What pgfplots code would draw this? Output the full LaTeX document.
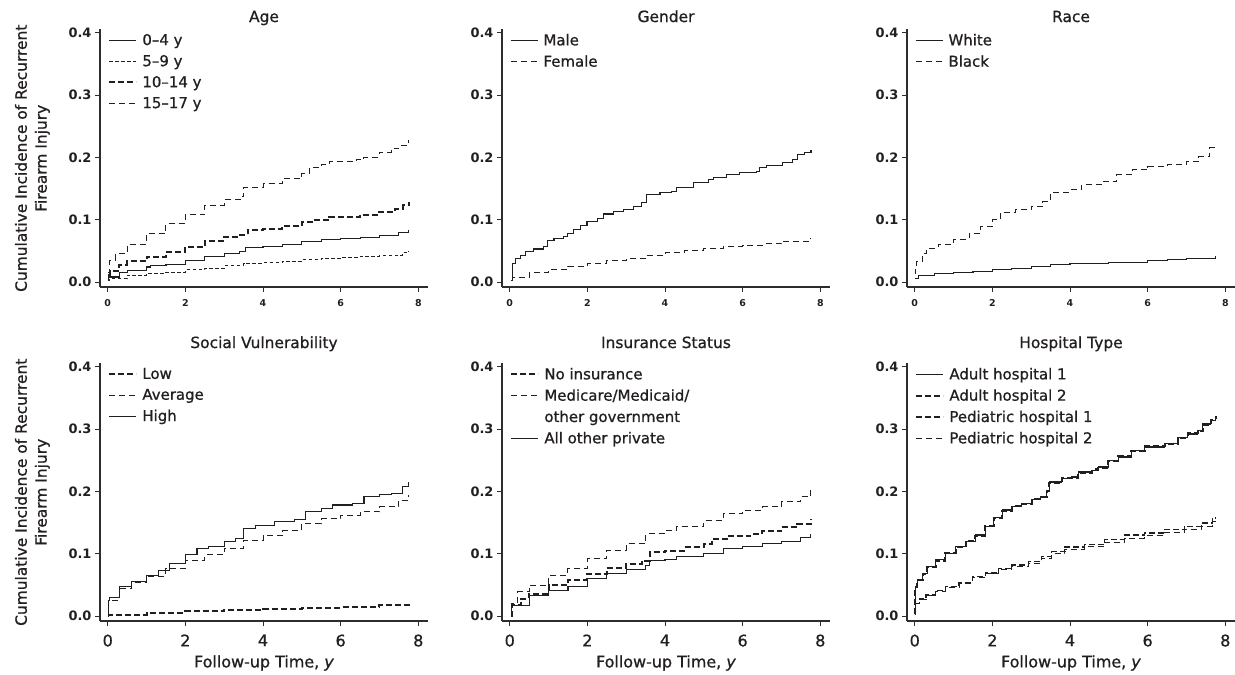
\documentclass[border=0pt]{standalone}
\usepackage{fontspec}
\setmainfont{DejaVu Sans}
\newfontfamily\semi[FakeBold=0.9]{DejaVu Sans}
\usepackage{pgfplots}
\pgfplotsset{compat=1.18}
\definecolor{ink}{RGB}{35,31,32}
\definecolor{axcol}{RGB}{45,45,45}
\pgfplotsset{
  panel/.style={
    scale only axis, width=328bp, height=257.5bp,
    xmin=-0.2, xmax=8.25, ymin=-0.008, ymax=0.405,
    axis lines=left, axis line style={-, line width=1.1bp, draw=axcol},
    xtick={0,2,4,6,8}, ytick={0,0.1,0.2,0.3,0.4},
    tick style={line width=0.9bp, draw=axcol}, tick align=outside, major tick length=5bp,
    /pgf/number format/assume math mode=true,
    yticklabel style={/pgf/number format/.cd, fixed, fixed zerofill, precision=1, /tikz/.cd,
      font=\fontsize{13}{15}\selectfont\bfseries, text=ink},
    title style={font=\fontsize{15.5}{18}\selectfont\semi, text=ink, at={(axis description cs:0.5,1)}, anchor=base},
    legend style={draw=none, fill=none, at={(axis description cs:0.022,0.995)}, anchor=north west,
      font=\fontsize{15}{17}\selectfont\semi, text=ink, row sep=4.5bp, inner sep=1bp,
      /tikz/every odd column/.append style={column sep=3bp}},
    legend cell align=left,
    legend image code/.code={\draw[##1] plot coordinates {(0bp,0bp) (27bp,0bp)};},
    every axis plot/.append style={const plot, no marks, draw=ink},
  },
  toprow/.style={panel,
    xticklabel style={font=\fontsize{9.5}{11}\selectfont\bfseries, text=ink, yshift=-4bp},
    title style={yshift=1.5bp}},
  botrow/.style={panel,
    xticklabel style={font=\fontsize{16}{18}\selectfont\semi, text=ink, yshift=-5bp},
    title style={yshift=9.5bp},
    xlabel={Follow-up Time, \textit{y}},
    xlabel style={font=\fontsize{16}{18}\selectfont\semi, text=ink, at={(axis description cs:0.5,0)}, anchor=center, yshift=-42bp}},
  ylab/.style={ylabel={Cumulative Incidence of Recurrent\\Firearm Injury},
    ylabel style={align=center, font=\fontsize{15.5}{20}\selectfont\semi, text=ink, at={(axis description cs:-0.206,0.5)}, anchor=center}},
  thinsolid/.style={line width=1.1bp},
  thindash/.style={line width=1bp, dash pattern=on 6bp off 4bp},
  densedash/.style={line width=1bp, dash pattern=on 3.5bp off 2.5bp},
  thickdash/.style={line width=2bp, dash pattern=on 6bp off 3bp},
  meddash/.style={line width=1.4bp, dash pattern=on 6bp off 3bp},
}
\begin{document}
\begin{tikzpicture}
\useasboundingbox (0,0) rectangle (1235bp,675bp);
% ---------------- Age
\begin{axis}[toprow, ylab, title={Age}, at={(100bp,388bp)}, anchor=south west]
\addplot[thinsolid] coordinates {(0,0.004)(0.02,0.008)(0.3,0.015)(0.5,0.019)(1,0.024)(1.1,0.027)(1.5,0.028)(2,0.035)(2.5,0.041)(3,0.046)(3.4,0.049)(3.55,0.055)(4,0.057)(4.5,0.06)(5,0.065)(5.5,0.068)(6,0.07)(6.5,0.071)(7,0.075)(7.5,0.079)(7.75,0.083)};
\addlegendentry{0–4 y}
\addplot[densedash] coordinates {(0,0.002)(0.05,0.005)(0.5,0.011)(1,0.014)(1.5,0.016)(2,0.02)(2.5,0.022)(3,0.026)(3.5,0.03)(4,0.031)(4.5,0.033)(5,0.036)(5.5,0.038)(6,0.04)(6.5,0.041)(7,0.042)(7.4,0.043)(7.6,0.047)(7.75,0.049)};
\addlegendentry{5–9 y}
\addplot[thickdash] coordinates {(0,0.012)(0.05,0.018)(0.3,0.027)(0.5,0.033)(1,0.04)(1.5,0.048)(2,0.056)(2.5,0.066)(3,0.072)(3.4,0.075)(3.6,0.083)(4,0.085)(4.5,0.09)(5,0.096)(5.3,0.1)(5.7,0.105)(6.5,0.108)(7,0.113)(7.4,0.117)(7.6,0.123)(7.75,0.128)};
\addlegendentry{10–14 y}
\addplot[thindash] coordinates {(0,0.015)(0.05,0.035)(0.2,0.045)(0.5,0.06)(1,0.077)(1.5,0.094)(2,0.108)(2.5,0.123)(3,0.132)(3.45,0.137)(3.5,0.152)(4,0.158)(4.5,0.166)(5,0.174)(5.2,0.183)(5.5,0.188)(5.7,0.193)(6.4,0.196)(6.6,0.2)(7,0.208)(7.3,0.214)(7.5,0.219)(7.75,0.228)};
\addlegendentry{15–17 y}
\end{axis}
% ---------------- Gender
\begin{axis}[toprow, title={Gender}, at={(502bp,388bp)}, anchor=south west]
\addplot[thinsolid] coordinates {(0.03,0.003)(0.07,0.030)(0.15,0.038)(0.28,0.043)(0.41,0.049)(0.62,0.053)(0.88,0.057)(0.97,0.066)(1.14,0.070)(1.39,0.073)(1.48,0.078)(1.65,0.084)(1.82,0.090)(1.99,0.097)(2.25,0.102)(2.42,0.109)(2.67,0.113)(2.93,0.117)(3.19,0.121)(3.40,0.127)(3.53,0.140)(3.87,0.143)(4.17,0.145)(4.30,0.151)(4.68,0.152)(4.73,0.159)(5.11,0.164)(5.24,0.167)(5.58,0.172)(5.92,0.176)(6.35,0.177)(6.44,0.183)(6.61,0.187)(7.03,0.192)(7.29,0.196)(7.42,0.204)(7.59,0.208)(7.76,0.212)};
\addlegendentry{Male}
\addplot[thindash] coordinates {(0.05,0.003)(0.07,0.008)(0.5,0.015)(1,0.02)(1.5,0.025)(2,0.03)(2.5,0.035)(3,0.038)(3.5,0.043)(4,0.047)(4.5,0.051)(5,0.054)(5.5,0.057)(6,0.058)(6.5,0.061)(7,0.065)(7.75,0.07)};
\addlegendentry{Female}
\end{axis}
% ---------------- Race
\begin{axis}[toprow, title={Race}, at={(907bp,388bp)}, anchor=south west]
\addplot[thinsolid] coordinates {(0,0.005)(0.1,0.01)(0.5,0.013)(1,0.015)(1.5,0.017)(2,0.02)(2.5,0.022)(3,0.025)(3.5,0.028)(4,0.03)(5,0.032)(6,0.034)(6.5,0.036)(7,0.038)(7.75,0.041)};
\addlegendentry{White}
\addplot[thindash] coordinates {(0,0.013)(0.02,0.025)(0.05,0.033)(0.2,0.046)(0.3,0.054)(0.6,0.06)(1,0.068)(1.4,0.078)(1.7,0.089)(2,0.1)(2.2,0.111)(2.6,0.116)(3,0.121)(3.3,0.129)(3.5,0.144)(4,0.148)(4.3,0.156)(4.8,0.161)(5.2,0.172)(5.6,0.18)(6,0.185)(6.5,0.188)(7,0.193)(7.3,0.201)(7.6,0.215)(7.75,0.218)};
\addlegendentry{Black}
\end{axis}
% ---------------- Social Vulnerability
\begin{axis}[botrow, ylab, title={Social Vulnerability}, at={(100bp,54bp)}, anchor=south west]
\addplot[thickdash] coordinates {(0,0.001)(0.1,0.002)(1,0.005)(2,0.0075)(3,0.01)(4,0.012)(5,0.013)(6,0.014)(7,0.017)(7.75,0.019)};
\addlegendentry{Low}
\addplot[thindash] coordinates {(0,0)(0.02,0.025)(0.3,0.044)(0.6,0.053)(1,0.063)(1.5,0.076)(2,0.089)(2.5,0.098)(3,0.108)(3.5,0.121)(4,0.129)(4.5,0.137)(5,0.148)(5.5,0.156)(6,0.161)(6.5,0.167)(7,0.175)(7.5,0.186)(7.75,0.194)};
\addlegendentry{Average}
\addplot[thinsolid] coordinates {(0,0)(0.02,0.025)(0.05,0.03)(0.3,0.047)(0.6,0.056)(1,0.065)(1.3,0.073)(1.6,0.084)(2,0.099)(2.3,0.108)(2.6,0.111)(3,0.119)(3.3,0.124)(3.5,0.14)(3.8,0.145)(4.3,0.151)(4.8,0.155)(5.1,0.167)(5.5,0.172)(5.8,0.178)(6.3,0.18)(6.6,0.191)(7,0.195)(7.3,0.197)(7.6,0.207)(7.75,0.215)};
\addlegendentry{High}
\end{axis}
% ---------------- Insurance Status
\begin{axis}[botrow, title={Insurance Status}, at={(502bp,54bp)}, anchor=south west]
\addplot[thickdash] coordinates {(0.03,0)(0.05,0.018)(0.3,0.028)(0.5,0.036)(1,0.049)(1.5,0.057)(2,0.068)(2.5,0.077)(3,0.084)(3.4,0.089)(3.6,0.103)(4,0.105)(4.5,0.111)(5,0.116)(5.2,0.124)(5.6,0.129)(6.2,0.131)(6.5,0.137)(7,0.143)(7.4,0.148)(7.75,0.156)};
\addlegendentry{No insurance}
\addplot[thindash] coordinates {(0.03,0)(0.05,0.02)(0.2,0.039)(0.5,0.049)(1,0.065)(1.5,0.076)(2,0.092)(2.5,0.105)(3,0.116)(3.5,0.132)(4,0.137)(4.3,0.143)(5,0.153)(5.5,0.164)(6,0.17)(6.5,0.175)(7,0.183)(7.5,0.191)(7.75,0.203)};
\addlegendentry{Medicare/Medicaid/}
\addlegendimage{empty legend}
\addlegendentry{other government}
\addplot[thinsolid] coordinates {(0.03,0)(0.05,0.017)(0.5,0.033)(1,0.041)(1.5,0.047)(2,0.06)(2.5,0.068)(3,0.074)(3.5,0.081)(3.6,0.089)(4,0.09)(4.3,0.095)(4.8,0.096)(5,0.1)(5.5,0.108)(6,0.112)(6.5,0.116)(7,0.12)(7.5,0.126)(7.75,0.131)};
\addlegendentry{All other private}
\end{axis}
% ---------------- Hospital Type
\begin{axis}[botrow, title={Hospital Type}, at={(907bp,54bp)}, anchor=south west]
\addplot[thinsolid] coordinates {(0,0.004)(0.01,0.047)(0.07,0.058)(0.2,0.068)(0.32,0.079)(0.54,0.090)(0.79,0.100)(1.05,0.111)(1.31,0.119)(1.56,0.130)(1.82,0.143)(2.03,0.158)(2.25,0.170)(2.5,0.175)(2.76,0.181)(3.02,0.187)(3.23,0.192)(3.40,0.199)(3.46,0.215)(3.79,0.220)(4.04,0.223)(4.21,0.231)(4.56,0.234)(4.73,0.239)(4.98,0.250)(5.24,0.255)(5.58,0.266)(5.92,0.271)(6.44,0.277)(6.78,0.287)(7.03,0.292)(7.29,0.298)(7.42,0.308)(7.63,0.314)(7.75,0.319)};
\addlegendentry{Adult hospital 1}
\addplot[thickdash] coordinates {(0,0.004)(0.01,0.046)(0.07,0.057)(0.2,0.068)(0.32,0.078)(0.54,0.089)(0.79,0.101)(1.05,0.110)(1.31,0.120)(1.56,0.129)(1.82,0.144)(2.03,0.157)(2.25,0.169)(2.5,0.176)(2.76,0.180)(3.02,0.188)(3.23,0.191)(3.40,0.200)(3.46,0.214)(3.79,0.221)(4.04,0.222)(4.21,0.230)(4.56,0.235)(4.73,0.238)(4.98,0.249)(5.24,0.256)(5.58,0.265)(5.92,0.272)(6.44,0.276)(6.78,0.286)(7.03,0.293)(7.29,0.297)(7.42,0.307)(7.63,0.315)(7.75,0.320)};
\addlegendentry{Adult hospital 2}
\addplot[meddash] coordinates {(0,0.004)(0.01,0.020)(0.12,0.028)(0.29,0.034)(0.54,0.041)(0.79,0.047)(1.14,0.053)(1.48,0.063)(1.82,0.069)(2.16,0.076)(2.5,0.082)(2.93,0.087)(3.27,0.095)(3.53,0.103)(3.87,0.111)(4.38,0.115)(4.89,0.123)(5.41,0.130)(5.92,0.133)(6.44,0.139)(6.95,0.144)(7.38,0.149)(7.67,0.157)(7.75,0.157)};
\addlegendentry{Pediatric hospital 1}
\addplot[thindash] coordinates {(0,0.004)(0.01,0.020)(0.12,0.027)(0.29,0.033)(0.54,0.040)(0.79,0.046)(1.14,0.052)(1.48,0.061)(1.82,0.068)(2.16,0.074)(2.5,0.080)(2.93,0.085)(3.27,0.093)(3.53,0.100)(3.87,0.107)(4.38,0.111)(4.89,0.118)(5.41,0.125)(5.92,0.129)(6.44,0.134)(6.95,0.139)(7.38,0.144)(7.67,0.151)(7.75,0.151)};
\addlegendentry{Pediatric hospital 2}
\end{axis}
\end{tikzpicture}
\end{document}
